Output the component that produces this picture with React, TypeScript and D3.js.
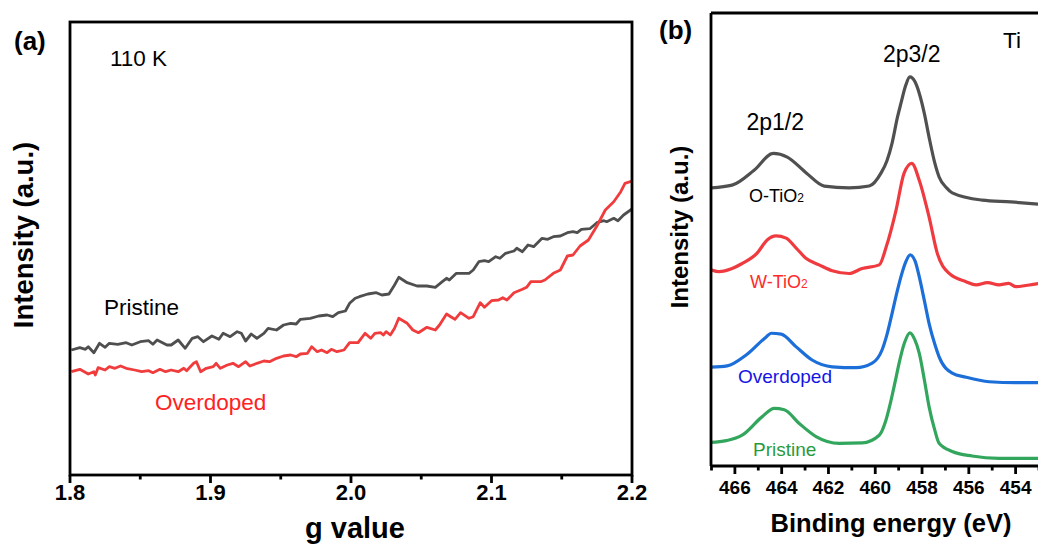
import React from "react";
import * as d3 from "d3";

// ---------- Panel (a): EPR at 110 K ----------
const gTicks = [1.8, 1.9, 2.0, 2.1, 2.2];
const gMinorTicks = [1.85, 1.95, 2.05, 2.15];

const eprPristineG = [
  1.801, 1.807, 1.811, 1.813, 1.817, 1.821, 1.825, 1.828, 1.834, 1.84, 1.844, 1.85, 1.856, 1.859, 1.862,
  1.869, 1.872, 1.877, 1.882, 1.887, 1.891, 1.895, 1.901, 1.906, 1.909, 1.914, 1.919, 1.922, 1.925, 1.929,
  1.933, 1.938, 1.941, 1.947, 1.952, 1.957, 1.961, 1.964, 1.971, 1.977, 1.983, 1.987, 1.991, 1.996, 1.999,
  2.003, 2.006, 2.012, 2.018, 2.022, 2.027, 2.031, 2.034, 2.04, 2.047, 2.054, 2.06, 2.065, 2.068, 2.07,
  2.075, 2.084, 2.087, 2.091, 2.095, 2.098, 2.103, 2.106, 2.11, 2.116, 2.118, 2.122, 2.126, 2.13, 2.136,
  2.14, 2.144, 2.149, 2.154, 2.158, 2.161, 2.164, 2.17, 2.175, 2.18, 2.182, 2.187, 2.19, 2.194, 2.2,
];
const eprPristineI = [
  125, 127.3, 125.7, 128.3, 122.3, 131.7, 127.7, 131.7, 130.7, 132.3, 130, 133.3, 134.3, 130.7, 135,
  130, 130, 135, 126.7, 136.7, 138.3, 133.3, 139, 135.7, 141.7, 138.3, 143.3, 141.7, 134, 141,
  136.7, 141.7, 146.7, 145, 150, 151.7, 151, 155.7, 156.7, 159, 160, 158.3, 162.3, 164, 171.7,
  176.7, 178.3, 181, 182.3, 180, 181, 190, 197.7, 192.3, 189, 189, 187.7, 193.3, 196.7, 195,
  201.7, 201.7, 205, 213.3, 214.3, 213.3, 218.3, 216.7, 221.7, 224, 226.7, 223.3, 230, 228.3, 236.7,
  235.7, 238.3, 239, 242.3, 243.3, 242.3, 245.7, 246.3, 252.3, 254.3, 253.3, 256.7, 254.3, 260, 266,
];

const eprOverdopedG = [
  1.801, 1.807, 1.813, 1.817, 1.818, 1.82, 1.825, 1.828, 1.832, 1.836, 1.84, 1.846, 1.851, 1.856, 1.859,
  1.864, 1.868, 1.872, 1.877, 1.881, 1.883, 1.888, 1.89, 1.893, 1.897, 1.902, 1.904, 1.907, 1.912, 1.916,
  1.92, 1.925, 1.928, 1.933, 1.938, 1.942, 1.947, 1.952, 1.957, 1.961, 1.964, 1.969, 1.972, 1.976, 1.979,
  1.983, 1.986, 1.99, 1.995, 1.999, 2.005, 2.01, 2.014, 2.017, 2.021, 2.023, 2.025, 2.028, 2.031, 2.034,
  2.04, 2.044, 2.048, 2.054, 2.06, 2.063, 2.068, 2.071, 2.074, 2.078, 2.084, 2.087, 2.092, 2.095, 2.1,
  2.105, 2.108, 2.111, 2.116, 2.122, 2.125, 2.128, 2.135, 2.138, 2.144, 2.149, 2.154, 2.158, 2.163, 2.169,
  2.175, 2.181, 2.187, 2.192, 2.195, 2.2,
];
const eprOverdopedI = [
  103.3, 105.7, 101, 103.3, 100, 107.3, 105, 108.3, 106.7, 109, 106.7, 105, 103.3, 104.3, 102.3,
  105.7, 103.3, 105, 103.3, 106.7, 104.3, 111.7, 113.3, 103.3, 106.7, 108.3, 111.7, 106.7, 110, 111.7,
  108.3, 113.3, 109, 111.7, 114, 113.3, 116.7, 119, 120, 118.3, 121, 121.7, 128.3, 123.3, 125,
  122.3, 125.7, 123.3, 125, 132.3, 132.3, 141.7, 136.7, 141.7, 142.3, 140, 143.3, 140, 146.7, 156.7,
  151.7, 145, 142.3, 147.7, 145, 150, 161, 158.3, 155.7, 162.3, 156.7, 158.3, 172.3, 167.7, 174.3,
  175, 177.3, 175, 182.3, 185.7, 187.7, 193.3, 193.3, 195, 201.7, 205, 219, 220, 229, 235,
  249, 265, 273.3, 283.3, 291.7, 294,
];

// ---------- Panel (b): Ti 2p XPS ----------
const bindingTicks = [466, 464, 462, 460, 458, 456, 454];
const bindingMinorTicks = [467, 465, 463, 461, 459, 457, 455, 453];

const xpsOTiO2E = [
  467.0, 466.12, 465.18, 464.36, 463.76, 462.95, 462.18, 461.12, 460.26, 459.75, 459.5, 459.28, 459.05, 458.9,
  458.7, 458.52, 458.3, 458.12, 457.9, 457.7, 457.45, 457.27, 456.95, 456.71, 455.43, 454.2, 453.0,
];
const xpsOTiO2I = [
  61.4, 62.0, 65.3, 69.0, 68.2, 64.7, 61.8, 61.4, 61.8, 64.7, 67.4, 71.3, 77.0, 80.1,
  84.0, 85.9, 84.8, 82.3, 77.8, 72.6, 66.8, 63.8, 61.4, 60.3, 58.7, 58.3, 57.8,
];

const xpsWTiO2E = [
  467.06, 466.67, 466.12, 465.69, 465.05, 464.62, 464.24, 463.81, 463.38, 462.95, 462.4, 461.84, 461.12, 460.56,
  459.83, 459.53, 459.11, 458.77, 458.44, 458.12, 457.7, 457.35, 456.84, 456.12, 455.69, 455.2, 454.71, 454.3,
  453.98, 453.5, 453.0,
];
const xpsWTiO2I = [
  43.4, 42.9, 43.6, 44.7, 47.0, 49.9, 50.8, 50.3, 48.1, 45.8, 44.4, 43.1, 42.5, 43.6,
  44.4, 48.4, 56.5, 64.6, 66.8, 63.1, 55.0, 47.0, 42.5, 40.7, 40.0, 40.5, 40.0, 40.3,
  39.6, 39.9, 40.3,
];

const xpsOverdopedE = [
  467.06, 466.33, 465.52, 464.66, 464.45, 464.02, 463.38, 462.7, 461.84, 460.82, 460.13, 459.71, 459.5, 459.28,
  459.05, 458.9, 458.7, 458.51, 458.3, 458.12, 457.9, 457.7, 457.45, 457.27, 456.71, 456.12, 455.13, 453.98, 453.0,
];
const xpsOverdopedI = [
  21.8, 22.1, 24.5, 28.5, 29.3, 29.1, 26.3, 23.4, 21.9, 21.7, 22.7, 25.6, 29.0, 33.7,
  38.8, 41.8, 45.0, 46.6, 45.3, 41.8, 36.5, 31.5, 26.8, 24.1, 20.5, 19.6, 18.6, 18.4, 18.4,
];

const xpsPristineE = [
  467.06, 466.37, 465.69, 464.83, 464.32, 463.89, 463.25, 462.53, 461.54, 460.56, 459.83, 459.55, 459.32, 459.1,
  458.98, 458.75, 458.52, 458.32, 458.12, 457.9, 457.7, 457.45, 457.27, 456.71, 455.86, 454.71, 453.0,
];
const xpsPristineI = [
  5.2, 5.6, 6.8, 10.9, 12.7, 12.4, 9.4, 6.5, 5.0, 5.1, 6.8, 10.0, 14.6, 19.8,
  22.7, 27.2, 29.4, 28.0, 24.9, 19.0, 13.1, 7.8, 5.0, 3.2, 2.2, 1.7, 1.7,
];

const FONT = "Arial, 'Liberation Sans', Helvetica, sans-serif";

export default function App() {
  // Panel (a) geometry
  const aL = 70, aR = 632, aT = 22, aB = 475;
  const xA = d3.scaleLinear().domain([1.8, 2.2]).range([aL, aR]);
  const yA = d3.scaleLinear().domain([0, 453]).range([aB, aT]);
  const lineA = (gs: number[], is: number[]) =>
    d3
      .line<number>()
      .x((_, i) => xA(gs[i]))
      .y((_, i) => yA(is[i]))
      .curve(d3.curveLinear)(gs) || "";

  // Panel (b) geometry
  const bL = 711, bR = 1039, bT = 13, bB = 466;
  const xB = d3.scaleLinear().domain([467, 453]).range([711.5, 1039]);
  const yB = d3.scaleLinear().domain([0, 100]).range([bB, bT]);
  const lineB = (es: number[], is: number[]) => {
    const pts = es.map((e, k) => [e, is[k]] as [number, number]).sort((p, q) => q[0] - p[0]);
    return (
      d3
        .line<[number, number]>()
        .x((p) => xB(p[0]))
        .y((p) => yB(p[1]))
        .curve(d3.curveMonotoneX)(pts) || ""
    );
  };

  const seriesB = [
    { e: xpsOTiO2E, i: xpsOTiO2I, color: "#505050" },
    { e: xpsWTiO2E, i: xpsWTiO2I, color: "#ef3b3f" },
    { e: xpsOverdopedE, i: xpsOverdopedI, color: "#1c6fd8" },
    { e: xpsPristineE, i: xpsPristineI, color: "#33a65e" },
  ];

  const AX = 2.8;

  return (
    <svg
      width={1038}
      height={549}
      style={{ position: "absolute", left: 0, top: 0, background: "#fff" }}
      fontFamily={FONT}
    >
      <defs>
        <clipPath id="clipB">
          <rect x={bL} y={bT} width={bR - bL} height={bB - bT} />
        </clipPath>
        <clipPath id="clipA">
          <rect x={aL} y={aT} width={aR - aL} height={aB - aT} />
        </clipPath>
      </defs>

      {/* ---------- Panel (a) ---------- */}
      <g clipPath="url(#clipA)">
        <path d={lineA(eprPristineG, eprPristineI)} fill="none" stroke="#4f4f4f" strokeWidth={2.8} strokeLinejoin="round" />
        <path d={lineA(eprOverdopedG, eprOverdopedI)} fill="none" stroke="#f03c3c" strokeWidth={2.8} strokeLinejoin="round" />
      </g>
      <rect x={aL} y={aT} width={aR - aL} height={aB - aT} fill="none" stroke="#000" strokeWidth={AX} />
      {gTicks.map((t) => (
        <line key={"ga" + t} x1={xA(t)} x2={xA(t)} y1={aB} y2={aB + 8} stroke="#000" strokeWidth={AX} />
      ))}
      {gMinorTicks.map((t) => (
        <line key={"gm" + t} x1={xA(t)} x2={xA(t)} y1={aB} y2={aB + 4.5} stroke="#000" strokeWidth={AX} />
      ))}
      {gTicks.map((t) => (
        <text key={"gl" + t} x={xA(t)} y={500} textAnchor="middle" fontSize={22} fontWeight="bold" fill="#000">
          {d3.format(".1f")(t)}
        </text>
      ))}
      <text x={355} y={538} textAnchor="middle" fontSize={29} fontWeight="bold" fill="#000">
        g value
      </text>
      <text
        transform="translate(33,235) rotate(-90)"
        textAnchor="middle"
        fontSize={27.5}
        fontWeight="bold"
        fill="#000"
      >
        Intensity (a.u.)
      </text>
      <text x={14} y={50} fontSize={26} fontWeight="bold" fill="#000">
        (a)
      </text>
      <text x={110} y={65.5} fontSize={22.5} fill="#000">
        110 K
      </text>
      <text x={104} y={315} fontSize={22.5} fill="#000">
        Pristine
      </text>
      <text x={155} y={410} fontSize={22.5} fill="#ff2222">
        Overdoped
      </text>

      {/* ---------- Panel (b) ---------- */}
      <g clipPath="url(#clipB)">
        {seriesB.map((s, k) => (
          <path key={"sb" + k} d={lineB(s.e, s.i)} fill="none" stroke={s.color} strokeWidth={3.2} strokeLinejoin="round" />
        ))}
      </g>
      <line x1={bL} x2={bL} y1={bT} y2={bB} stroke="#000" strokeWidth={AX} />
      <line x1={bL} x2={1040} y1={bT} y2={bT} stroke="#000" strokeWidth={AX} />
      <line x1={bL} x2={1040} y1={bB} y2={bB} stroke="#000" strokeWidth={AX} />
      {bindingTicks.map((t) => (
        <line key={"ba" + t} x1={xB(t)} x2={xB(t)} y1={bB} y2={bB + 8} stroke="#000" strokeWidth={AX} />
      ))}
      {bindingMinorTicks.map((t) => (
        <line key={"bm" + t} x1={xB(t)} x2={xB(t)} y1={bB} y2={bB + 4.5} stroke="#000" strokeWidth={AX} />
      ))}
      {bindingTicks.map((t) => (
        <text key={"bl" + t} x={xB(t)} y={494} textAnchor="middle" fontSize={19} fontWeight="bold" fill="#000">
          {t}
        </text>
      ))}
      <text x={891} y={532} textAnchor="middle" fontSize={25.5} fontWeight="bold" fill="#000">
        Binding energy (eV)
      </text>
      <text
        transform="translate(688,227) rotate(-90)"
        textAnchor="middle"
        fontSize={24}
        fontWeight="bold"
        fill="#000"
      >
        Intensity (a.u.)
      </text>
      <text x={659} y={39} fontSize={26} fontWeight="bold" fill="#000">
        (b)
      </text>
      <text x={1003} y={48} fontSize={22.5} fill="#000">
        Ti
      </text>
      <text x={883} y={61.5} fontSize={23} fill="#000">
        2p3/2
      </text>
      <text x={746.5} y={130} fontSize={23} fill="#000">
        2p1/2
      </text>
      <text x={749} y={201.5} fontSize={18} fill="#000">
        O-TiO<tspan fontSize={12}>2</tspan>
      </text>
      <text x={750} y={288} fontSize={18} fill="#ff2a2a">
        W-TiO<tspan fontSize={12}>2</tspan>
      </text>
      <text x={738} y={383} fontSize={19} fill="#1414e6">
        Overdoped
      </text>
      <text x={753} y={456} fontSize={19} fill="#2a9a3c">
        Pristine
      </text>
    </svg>
  );
}
